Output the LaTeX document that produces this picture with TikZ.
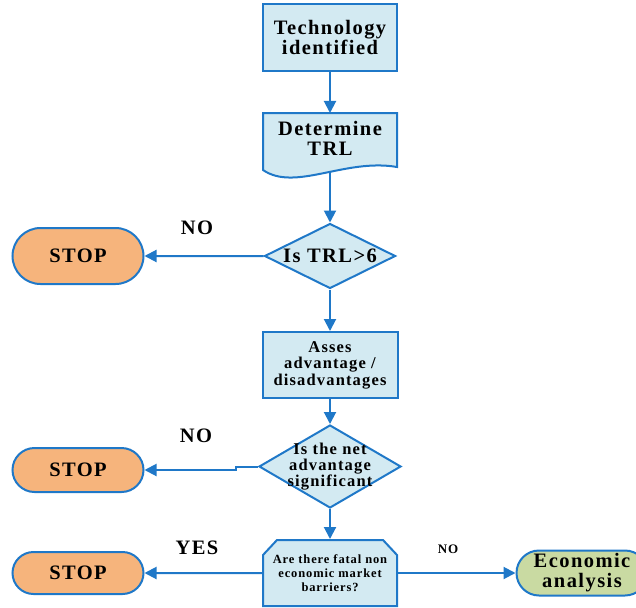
\documentclass[tikz,border=0pt]{standalone}
\usepackage{fontspec}
\setmainfont{Liberation Serif}[LetterSpace=7]
\usetikzlibrary{shapes.geometric, shapes.misc, arrows.meta}
\definecolor{flowblue}{HTML}{1F78C8}
\definecolor{boxfill}{HTML}{D3EAF2}
\definecolor{stopfill}{HTML}{F6B47C}
\definecolor{econfill}{HTML}{C9DAA2}
\tikzset{
every picture/.style={line width=2pt},
txt/.style={align=center, font=\bfseries\fontsize{20.5}{20}\selectfont},
box/.style={txt, draw=flowblue, fill=boxfill},
dec/.style={box, diamond, inner sep=0pt},
term/.style={txt, draw=flowblue, rounded rectangle, minimum width=133pt, inner sep=1pt},
arr/.style={draw=flowblue, -{Triangle[length=12pt,width=12pt]}}
}

\begin{document}
\begin{tikzpicture}[x=1pt, y=-1pt]
      \useasboundingbox (0,0) rectangle (636,607);
      \node[box, minimum width=134pt, minimum height=67pt] (tech) at (330,37.5) {Technology\\identified};
      \draw[box] (263,113) -- (397,113) -- (397,167) .. controls (345,158) and (295,192) .. (263,170) -- cycle;
      \node[txt] (trl) at (330,138) {Determine\\TRL};
      \coordinate (trltop) at (330,113);
      \coordinate (trlend) at (330,172);
      \node[dec, minimum width=131pt, minimum height=65pt, label={[txt]center:Is TRL>6}] (isTRL) at (330,256) {};
      \node[term, fill=stopfill, minimum height=56pt] (stop1) at (78,256) {STOP};
      \node[box, minimum width=135pt, minimum height=66pt, font=\bfseries\fontsize{16.5}{16.5}\selectfont] (asses) at (330,365) {Asses\\advantage /\\disadvantages};
      \node[dec, minimum width=142pt, minimum height=83pt, label={[txt, font=\bfseries\fontsize{16.5}{16}\selectfont]center:Is the net\\advantage\\significant}] (netadv) at (330,466.5) {};
      \node[term, fill=stopfill, minimum height=44pt] (stop2) at (78,470) {STOP};
      \draw[box] (263,606) -- (263,555) -- (277,540) -- (383,540) -- (397,555) -- (397,606) -- cycle;
      \node[txt, minimum width=134pt, minimum height=66pt, inner sep=0pt, font=\bfseries\fontsize{12.5}{14}\selectfont] (barrier) at (330,573) {Are there fatal non\\economic market\\barriers?};
      \node[term, fill=stopfill, minimum height=42pt] (stop3) at (78,573) {STOP};
      \node[term, fill=econfill, minimum height=45pt] (econ) at (582,573) {Economic\\analysis};
      \node[txt] (no1) at (197,228) {NO};
      \node[txt] (no2) at (196,436) {NO};
      \node[txt] (yes) at (197,548) {YES};
      \node[txt, font=\bfseries\fontsize{13}{13}\selectfont] (no3) at (448,549) {NO};
      \draw[arr] (tech) -- (trltop);
      \draw[arr] (trlend) -- (isTRL);
      \draw[arr] (isTRL) -- (stop1);
      \draw[arr] (isTRL) -- (asses);
      \draw[arr] (asses) -- (netadv);
      \draw[arr] (netadv.west) -- ++(-22,0) |- (stop2);
      \draw[arr] (netadv) -- (barrier);
      \draw[arr] (barrier) -- (stop3);
      \draw[arr] (barrier) -- (econ);
    \end{tikzpicture}
\end{document}
